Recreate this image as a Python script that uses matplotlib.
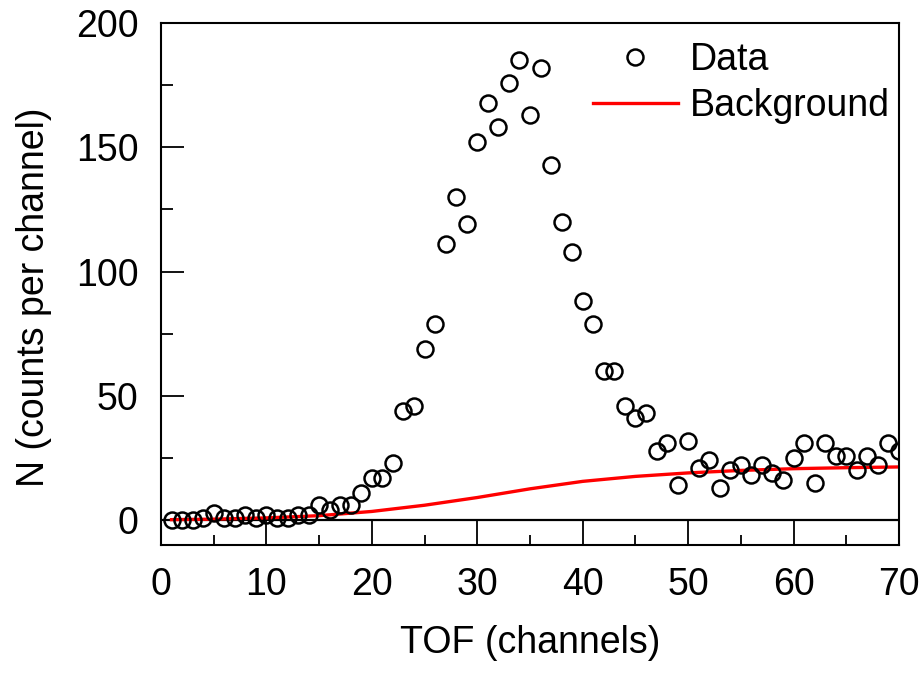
import numpy as np
import matplotlib
matplotlib.use("Agg")
import matplotlib.pyplot as plt
from matplotlib.ticker import MultipleLocator

# TOF spectrum: counts per channel and fitted background
channels = list(range(1, 71))
counts = [0, 0, 0, 1, 3, 1, 1, 2, 1, 2,
          1, 1, 2, 2, 6, 4, 6, 6, 11, 17,
          17, 23, 44, 46, 69, 79, 111, 130, 119, 152,
          168, 158, 176, 185, 163, 182, 143, 120, 108, 88,
          79, 60, 60, 46, 41, 43, 28, 31, 14, 32,
          21, 24, 13, 20, 22, 18, 22, 19, 16, 25,
          31, 15, 31, 26, 26, 20, 26, 22, 31, 28]

bg_channels = [1, 5, 10, 15, 20, 25, 30, 35, 40, 45, 50, 55, 60, 65, 70]
bg_counts = [0.2, 0.4, 0.9, 1.8, 3.5, 6.0, 9.1, 12.6, 15.6, 17.6, 19.0, 20.0, 20.7, 21.1, 21.4]

plt.rcParams['font.family'] = ['Liberation Sans', 'DejaVu Sans']
fs = 27

fig = plt.figure(figsize=(9.22, 6.78), dpi=100)
ax = fig.add_axes([161/922, 1 - 545/678, (899 - 161)/922, (545 - 23)/678])

ax.plot(bg_channels, bg_counts, color='red', lw=2.4, label='Background', zorder=2)
ax.plot(channels, counts, 'o', ms=11.5, mfc='none', mec='black', mew=1.8,
        label='Data', zorder=3)
ax.axhline(0, color='black', lw=1.6, zorder=1)

ax.set_xlim(0, 70)
ax.set_ylim(-10, 200)
ax.xaxis.set_major_locator(MultipleLocator(10))
ax.xaxis.set_minor_locator(MultipleLocator(5))
ax.yaxis.set_major_locator(MultipleLocator(50))
ax.yaxis.set_minor_locator(MultipleLocator(25))

ax.tick_params(which='both', direction='in', width=1.3)
ax.tick_params(axis='x', which='major', length=18, pad=16, labelsize=fs)
ax.tick_params(axis='x', which='minor', length=7.5)
ax.tick_params(axis='y', which='major', length=16.5, pad=16, labelsize=fs)
ax.tick_params(axis='y', which='minor', length=8.5)
for sp in ax.spines.values():
    sp.set_linewidth(1.5)

ax.set_xlabel('TOF (channels)', fontsize=fs, labelpad=16)
ax.set_ylabel('N (counts per channel)', fontsize=fs, labelpad=17.5, y=0.475)

handles, labels = ax.get_legend_handles_labels()
ax.legend(handles[::-1], labels[::-1], loc='upper right', bbox_to_anchor=(1.0, 0.981),
          frameon=False, fontsize=fs, handlelength=2.25, handletextpad=0.32,
          labelspacing=0.25, borderaxespad=0.15, borderpad=0.1, numpoints=1)

fig.savefig('out.png', dpi=100)
